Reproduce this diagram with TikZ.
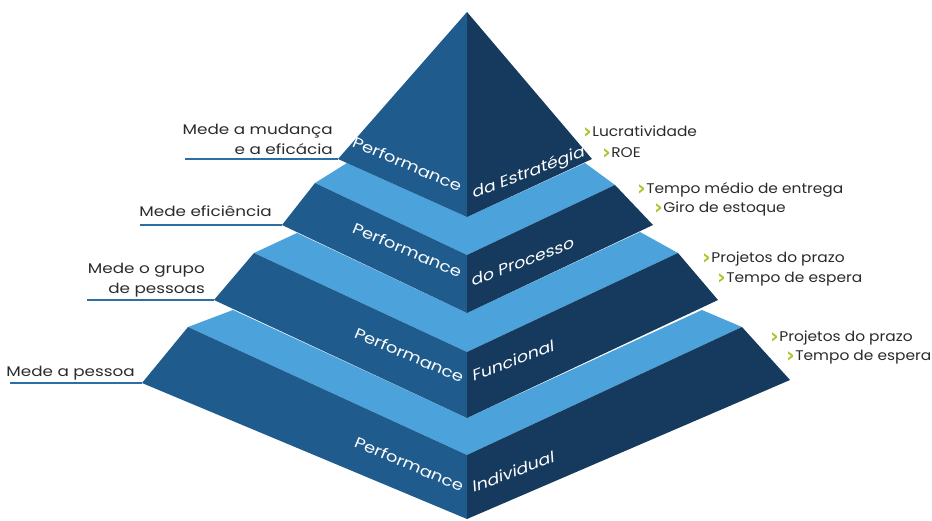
\documentclass[tikz,border=0pt]{standalone}
\usepackage{fontspec}
\setmainfont[FakeStretch=1.2]{Poppins}
\newfontfamily\facefont[FakeStretch=1.2]{Poppins}
\newfontfamily\metricfont[FakeStretch=1.1]{Poppins}
\newfontfamily\chevfont{DejaVu Sans}

\definecolor{facel}{HTML}{1F5B8C}
\definecolor{facer}{HTML}{153A5E}
\definecolor{topband}{HTML}{4CA3DB}
\definecolor{leadline}{HTML}{2F6EA5}
\definecolor{chevgreen}{HTML}{A8C62E}
\definecolor{labeltext}{HTML}{2B2B2B}

\newcommand{\chev}{\raisebox{-1.2pt}{\chevfont\bfseries\fontsize{21}{21}\selectfont\textcolor{chevgreen}{›}}\kern0.5pt}

\begin{document}
\begin{tikzpicture}[
  x=1pt, y=-1pt,
  left face/.style={fill=facel},
  right face/.style={fill=facer},
  band/.style={fill=topband},
  leader/.style={draw=leadline, line width=1.2pt},
  measure/.style={
    font=\fontsize{14}{20}\selectfont,
    text=labeltext,
    align=right,
    inner sep=0pt
  },
  metric/.style={
    font=\metricfont\fontsize{14}{20}\selectfont,
    text=labeltext,
    inner sep=0pt,
    anchor=base west
  },
  face left/.style={
    font=\facefont\fontsize{15}{18}\selectfont,
    text=white, inner sep=0pt,
    anchor=base east, rotate=-23
  },
  face right/.style={
    font=\facefont\fontsize{15}{18}\selectfont,
    text=white, inner sep=0pt,
    anchor=base west, rotate=21, xslant=0.3
  },
]
\useasboundingbox (0,0) rectangle (932,521);

% tier 4 -- individual
\fill[band] (188,327) -- (233,310) -- (467,418) -- (702,310) -- (742,327) -- (467,455) -- cycle;
\fill[left face] (188,327) -- (467,455) -- (467,519) -- (142,383) -- cycle;
\fill[right face] (467,455) -- (742,327) -- (790,380) -- (467,519) -- cycle;
% tier 3 -- funcional
\fill[band] (254,253) -- (297,233) -- (467,313) -- (640,232) -- (678,253) -- (467,352) -- cycle;
\fill[left face] (254,253) -- (467,352) -- (467,418) -- (214,300) -- cycle;
\fill[right face] (467,352) -- (678,253) -- (718,300) -- (467,418) -- cycle;
% tier 2 -- processo
\fill[band] (315,183) -- (347,163) -- (467,217) -- (585,163) -- (615,185) -- (467,255) -- cycle;
\fill[left face] (315,183) -- (467,255) -- (467,313) -- (282,225) -- cycle;
\fill[right face] (467,255) -- (615,185) -- (653,225) -- (467,313) -- cycle;
% tier 1 -- estrategia
\fill[left face] (467,12) -- (338,159) -- (467,217) -- cycle;
\fill[right face] (467,12) -- (467,217) -- (592,159) -- cycle;

% corners the leaders run to
\coordinate (c1) at (338,159);
\coordinate (c2) at (282,225);
\coordinate (c3) at (214,300);
\coordinate (c4) at (142,383);

% texts on the faces
\node[face left] (p1) at (459,192) {Performance};
\node[face right] (s1) at (473,199) {da Estratégia};
\node[face left] (p2) at (459,278) {Performance};
\node[face right] (s2) at (472,287) {do Processo};
\node[face left] (p3) at (461,383) {Performance};
\node[face right] (s3) at (473,382) {Funcional};
\node[face left] (p4) at (461,492) {Performance};
\node[face right] (s4) at (473,493) {Individual};

% what each level measures
\node[measure, anchor=south east] (m1) at (333,155) {Mede a mudança\\e a eficácia};
\node[measure, anchor=base east] (m2) at (272,217) {Mede eficiência};
\node[measure, anchor=south east] (m3) at (205,297) {Mede o grupo\\de pessoas};
\node[measure, anchor=base east] (m4) at (135,377) {Mede a pessoa};
\coordinate (e1) at (185,159);
\coordinate (e2) at (140,225);
\coordinate (e3) at (87,300);
\coordinate (e4) at (10,383);
\draw[leader] (e1) -- (c1);
\draw[leader] (e2) -- (c2);
\draw[leader] (e3) -- (c3);
\draw[leader] (e4) -- (c4);

% indicators
\node[metric] (k1) at (583,137) {\chev Lucratividade};
\node[metric] (k2) at (602,158) {\chev ROE};
\node[metric] (k3) at (637,194) {\chev Tempo médio de entrega};
\node[metric] (k4) at (654,213) {\chev Giro de estoque};
\node[metric] (k5) at (702,263) {\chev Projetos do prazo};
\node[metric] (k6) at (717,283) {\chev Tempo de espera};
\node[metric] (k7) at (770,342) {\chev Projetos do prazo};
\node[metric] (k8) at (786,361) {\chev Tempo de espera};
\end{tikzpicture}
\end{document}
